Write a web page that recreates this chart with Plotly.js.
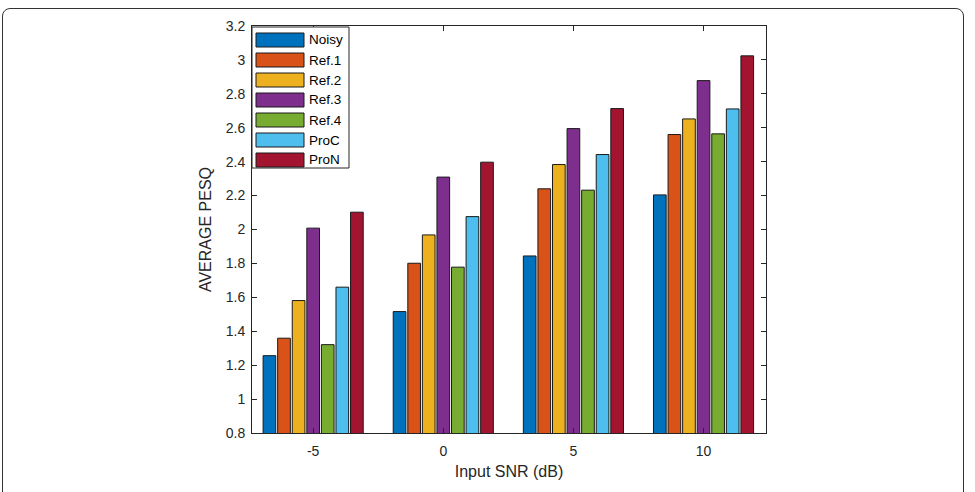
<!DOCTYPE html>
<html>
<head>
<meta charset="utf-8">
<script src="https://cdn.plot.ly/plotly-3.0.1.min.js"></script>
<style>
  html, body { margin: 0; padding: 0; background: #fff; }
  #wrap { position: relative; width: 975px; height: 492px; overflow: hidden; }
  #chart { position: absolute; left: 0; top: 0; width: 975px; height: 492px; }
  #frame { position: absolute; left: 2px; top: 8px; width: 962px; height: 520px;
           border: 1.5px solid #333; border-radius: 8px; pointer-events: none; box-sizing: border-box; }
</style>
</head>
<body>
<div id="wrap">
  <div id="chart"></div>
  <div id="frame"></div>
</div>
<script>
// ---- data ----
const snr = [-5, 0, 5, 10];
const seriesNames = ["Noisy", "Ref.1", "Ref.2", "Ref.3", "Ref.4", "ProC", "ProN"];
const noisy = [1.256, 1.516, 1.844, 2.204];
const ref1  = [1.359, 1.801, 2.240, 2.560];
const ref2  = [1.581, 1.968, 2.383, 2.652];
const ref3  = [2.008, 2.309, 2.595, 2.878];
const ref4  = [1.321, 1.778, 2.232, 2.564];
const proC  = [1.660, 2.076, 2.442, 2.711];
const proN  = [2.102, 2.397, 2.713, 3.024];
const yTickVals = [0.8, 1, 1.2, 1.4, 1.6, 1.8, 2, 2.2, 2.4, 2.6, 2.8, 3, 3.2];
const yTickText = ["0.8", "1", "1.2", "1.4", "1.6", "1.8", "2", "2.2", "2.4", "2.6", "2.8", "3", "3.2"];
const xTickText = ["-5", "0", "5", "10"];

const seriesValues = [noisy, ref1, ref2, ref3, ref4, proC, proN];
const colors = ["#0072BD", "#D95319", "#EDB120", "#7E2F8E", "#77AC30", "#4DBEEE", "#A2142F"];

const font = "Liberation Sans, Arial, Helvetica, sans-serif";
const axisColor = "#262626";

const traces = seriesNames.map((name, i) => ({
  type: "bar",
  name: name,
  x: snr,
  y: seriesValues[i],
  base: 0,
  marker: { color: colors[i], line: { color: "#1a1a1a", width: 1 } },
  showlegend: false,
  hoverinfo: "x+y+name"
}));

// plot area in pixels
const L = 252, R = 766, T = 26, B = 433;
const W = 975, H = 492;
const px = v => (v - L) / (R - L);
const py = v => (B - v) / (B - T);

// custom legend (MATLAB style big swatches)
const shapes = [];
const annotations = [];
shapes.push({ type: "rect", xref: "paper", yref: "paper",
  x0: px(252), x1: px(349), y0: py(168), y1: py(27),
  line: { color: axisColor, width: 1 }, fillcolor: "#ffffff", layer: "above" });
seriesNames.forEach((name, i) => {
  const cy = 40 + i * 20;
  shapes.push({ type: "rect", xref: "paper", yref: "paper",
    x0: px(256), x1: px(304), y0: py(cy + 7), y1: py(cy - 7),
    fillcolor: colors[i], line: { color: "#1a1a1a", width: 1 }, layer: "above" });
  annotations.push({ xref: "paper", yref: "paper", x: px(307), y: py(cy),
    xanchor: "left", yanchor: "middle", text: name, showarrow: false,
    font: { family: font, size: 13.5, color: "#000" } });
});

const layout = {
  width: W, height: H,
  margin: { l: L, r: W - R, t: T, b: H - B, pad: 0 },
  paper_bgcolor: "#ffffff",
  plot_bgcolor: "#ffffff",
  barmode: "group",
  bargap: 0.216,
  bargroupgap: 0.13,
  showlegend: false,
  font: { family: font, size: 14, color: axisColor },
  xaxis: {
    range: [-7.35, 12.4],
    tickmode: "array", tickvals: snr, ticktext: xTickText,
    ticks: "inside", ticklen: 5, tickcolor: axisColor,
    showline: true, linecolor: axisColor, linewidth: 1, mirror: "allticks",
    showgrid: false, zeroline: false,
    ticklabelstandoff: 5,
    tickfont: { family: font, size: 14, color: axisColor },
    title: { text: "Input SNR (dB)", font: { family: font, size: 16, color: axisColor }, standoff: 8 }
  },
  yaxis: {
    range: [0.8, 3.2],
    tickmode: "array", tickvals: yTickVals, ticktext: yTickText,
    ticks: "inside", ticklen: 5, tickcolor: axisColor,
    showline: true, linecolor: axisColor, linewidth: 1, mirror: "allticks",
    showgrid: false, zeroline: false,
    ticklabelstandoff: 3,
    tickfont: { family: font, size: 14, color: axisColor },
    title: { text: "AVERAGE PESQ", font: { family: font, size: 16, color: axisColor }, standoff: 10 }
  },
  shapes: shapes,
  annotations: annotations
};

Plotly.newPlot("chart", traces, layout, { displayModeBar: false, staticPlot: true });
</script>
</body>
</html>
